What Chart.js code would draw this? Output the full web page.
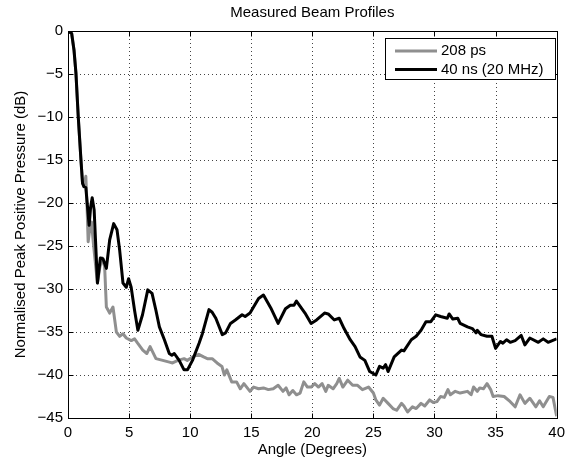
<!DOCTYPE html>
<html><head><meta charset="utf-8">
<script src="https://cdn.jsdelivr.net/npm/chart.js@4"></script>
<style>html,body{margin:0;padding:0;background:#fff}#wrap{width:571px;height:459px}</style>
</head><body><div id="wrap"><canvas id="c" width="571" height="459"></canvas></div>
<script>
const chartTitle = "Measured Beam Profiles";
const xTitle = "Angle (Degrees)";
const yTitle = "Normalised Peak Positive Pressure (dB)";
const seriesNames = ["208 ps", "40 ns (20 MHz)"];
const xTicks = [0, 5, 10, 15, 20, 25, 30, 35, 40];
const yTicks = [0, -5, -10, -15, -20, -25, -30, -35, -40, -45];

// 40 ns (20 MHz) series
const longAngle = [0, 0.08, 0.3, 0.49, 0.65, 0.84, 1.06, 1.19, 1.3, 1.46, 1.6, 1.73, 1.85, 1.98, 2.14, 2.41, 2.65, 2.87, 3.14, 3.41, 3.74, 4.01, 4.23, 4.5, 4.77, 4.96, 5.17, 5.45, 5.72, 6.1, 6.53, 6.88, 7.2, 7.48, 7.89, 8.29, 8.5, 8.7, 9.1, 9.5, 9.78, 10.19, 10.73, 11.0, 11.54, 11.8, 12.1, 12.63, 12.9, 13.3, 13.7, 14.25, 14.5, 14.9, 15.6, 16.0, 16.6, 17.2, 17.8, 18.2, 18.5, 18.7, 19.4, 19.9, 20.35, 21.0, 21.3, 21.8, 22.2, 22.6, 23.1, 23.5, 23.9, 24.3, 24.7, 25.2, 25.5, 25.8, 26.0, 26.2, 26.7, 27.3, 27.5, 28.1, 28.5, 28.9, 29.3, 29.7, 30.1, 30.5, 31.05, 31.2, 31.5, 31.9, 32.1, 32.7, 33.1, 33.4, 33.5, 33.8, 34.3, 34.7, 35.0, 35.4, 35.6, 35.9, 36.2, 36.6, 37.1, 37.4, 37.8, 38.5, 38.9, 39.3, 40];
const longDb = [0, 0, -0.3, -2.2, -4.9, -10, -15, -17.7, -18.1, -18.2, -20.5, -22.6, -20.5, -19.4, -20.8, -29.3, -26.4, -26.5, -27.6, -24.3, -22.4, -23.1, -25.5, -29.3, -29.8, -28.8, -29.8, -32.5, -34.8, -33.0, -30.1, -30.5, -32.5, -34.4, -35.9, -37.5, -37.7, -37.5, -38.3, -39.4, -39.4, -38.3, -36.3, -35.2, -32.4, -32.7, -33.4, -35.3, -35.1, -34.0, -33.6, -33.0, -33.2, -32.8, -31.1, -30.7, -32.2, -34.0, -32.3, -31.9, -31.9, -31.4, -32.8, -34.0, -33.6, -32.8, -32.9, -33.6, -33.4, -34.6, -35.9, -36.7, -37.9, -38.3, -39.6, -40.0, -39.0, -39.2, -38.8, -39.6, -37.9, -37.1, -37.2, -35.9, -35.5, -34.8, -33.8, -33.8, -33.0, -33.2, -33.4, -32.9, -33.5, -33.4, -34.0, -34.4, -34.6, -35.1, -34.8, -35.3, -35.5, -35.5, -36.9, -36.1, -36.3, -35.9, -36.2, -36.0, -35.4, -36.5, -35.7, -36.2, -35.8, -36.2, -35.8];

// 208 ps series
const shortAngle = [0, 0.08, 0.3, 0.49, 0.65, 0.84, 1.06, 1.19, 1.3, 1.46, 1.55, 1.65, 1.8, 1.92, 2.1, 2.41, 2.6, 2.81, 3.0, 3.14, 3.41, 3.68, 3.96, 4.23, 4.5, 4.77, 5.18, 5.45, 5.7, 6.12, 6.45, 6.72, 7.2, 7.75, 8.3, 8.56, 9.0, 9.5, 9.76, 10.2, 10.7, 11.1, 11.4, 11.8, 12.2, 12.6, 12.8, 13.0, 13.4, 13.8, 14.1, 14.4, 14.9, 15.2, 15.6, 16.0, 16.4, 16.8, 17.2, 17.6, 17.85, 18.1, 18.4, 18.7, 19.0, 19.3, 19.6, 19.9, 20.2, 20.5, 20.8, 21.1, 21.3, 21.7, 22.0, 22.2, 22.5, 22.9, 23.3, 23.7, 24.1, 24.6, 25.0, 25.2, 25.5, 25.8, 26.2, 26.6, 26.9, 27.3, 27.5, 27.8, 28.2, 28.5, 28.9, 29.2, 29.6, 29.9, 30.2, 30.5, 30.8, 31.1, 31.3, 31.7, 32.1, 32.7, 33.0, 33.2, 33.5, 33.7, 34.0, 34.3, 34.6, 34.8, 35.2, 35.7, 36.2, 36.6, 37.0, 37.4, 37.8, 38.3, 38.6, 38.9, 39.4, 39.7, 40];
const shortDb = [0, 0, -0.3, -2.2, -4.9, -10, -15, -17.7, -18.0, -16.9, -20, -24.5, -22.8, -22.2, -25, -29.3, -27.5, -26.4, -27.4, -32.1, -32.8, -32.1, -35.0, -35.5, -35.2, -35.7, -36.0, -35.8, -36.3, -37.1, -37.5, -36.7, -38.1, -38.3, -38.5, -38.6, -38.3, -38.1, -38.3, -37.9, -37.6, -37.9, -38.1, -38.1, -38.6, -39.0, -40.0, -39.4, -40.8, -40.8, -41.6, -41.0, -41.9, -41.4, -41.6, -41.5, -41.7, -41.6, -41.2, -41.9, -41.5, -42.3, -41.8, -42.3, -42.1, -40.8, -41.4, -41.4, -41.0, -41.4, -41.0, -41.9, -41.2, -41.6, -41.0, -40.4, -41.4, -40.6, -41.2, -41.2, -41.7, -41.4, -42.1, -42.9, -43.5, -42.7, -43.3, -43.9, -44.1, -43.3, -43.6, -44.3, -43.7, -43.9, -43.3, -43.6, -42.9, -43.2, -43.1, -42.5, -42.6, -41.7, -42.3, -41.9, -42.1, -41.9, -42.3, -41.4, -41.9, -41.5, -41.6, -41.0, -41.7, -42.5, -42.4, -42.5, -43.1, -43.7, -42.3, -43.3, -42.7, -43.7, -43.0, -43.7, -42.5, -42.6, -44.8];

const FONT = "'Liberation Sans', Arial, Helvetica, sans-serif";
const GRAY = '#8f8f8f';
const BLACK = '#000000';

function pts(xs, ys) { return xs.map((x, i) => ({ x: x, y: ys[i] })); }
function fmt(v) { return v < 0 ? '\u2212' + Math.abs(v) : String(v); }

const decor = {
  id: 'decor',
  beforeDatasetsDraw(chart) {
    const { ctx, chartArea: a, scales: { x, y } } = chart;
    ctx.save();
    ctx.strokeStyle = '#444';
    ctx.lineWidth = 1;
    ctx.setLineDash([1, 3]);
    xTicks.forEach(t => {
      const px = Math.round(x.getPixelForValue(t)) + 0.5;
      ctx.beginPath(); ctx.moveTo(px, a.top); ctx.lineTo(px, a.bottom); ctx.stroke();
    });
    yTicks.forEach(t => {
      const py = Math.round(y.getPixelForValue(t)) + 0.5;
      ctx.beginPath(); ctx.moveTo(a.left, py); ctx.lineTo(a.right, py); ctx.stroke();
    });
    ctx.restore();
  },
  afterDatasetsDraw(chart) {
    const { ctx, chartArea: a, scales: { x, y } } = chart;
    ctx.save();
    ctx.strokeStyle = '#000';
    ctx.lineWidth = 1;
    ctx.setLineDash([]);
    const L = Math.round(a.left) + 0.5, R = Math.round(a.right) + 0.5;
    const T = Math.round(a.top) + 0.5, B = Math.round(a.bottom) + 0.5;
    ctx.strokeRect(L, T, R - L, B - T);
    const tl = 5;
    xTicks.forEach(t => {
      const px = Math.round(x.getPixelForValue(t)) + 0.5;
      ctx.beginPath();
      ctx.moveTo(px, B); ctx.lineTo(px, B - tl);
      ctx.moveTo(px, T); ctx.lineTo(px, T + tl);
      ctx.stroke();
    });
    yTicks.forEach(t => {
      const py = Math.round(y.getPixelForValue(t)) + 0.5;
      ctx.beginPath();
      ctx.moveTo(L, py); ctx.lineTo(L + tl, py);
      ctx.moveTo(R, py); ctx.lineTo(R - tl, py);
      ctx.stroke();
    });
    // legend
    const lx = 385.5, ly = 38.5, lw = 170, lh = 41;
    ctx.fillStyle = '#fff';
    ctx.fillRect(lx, ly, lw, lh);
    ctx.strokeRect(lx, ly, lw, lh);
    const rows = [{ c: GRAY, t: seriesNames[0], yy: 51 }, { c: BLACK, t: seriesNames[1], yy: 69.5 }];
    ctx.font = '15px ' + FONT;
    ctx.textBaseline = 'middle';
    ctx.textAlign = 'left';
    rows.forEach(r => {
      ctx.strokeStyle = r.c; ctx.lineWidth = 3;
      ctx.beginPath(); ctx.moveTo(395, r.yy); ctx.lineTo(437, r.yy); ctx.stroke();
      ctx.fillStyle = '#000';
      ctx.fillText(r.t, 441, r.yy);
    });
    // title
    ctx.textAlign = 'center';
    ctx.fillText(chartTitle, (a.left + a.right) / 2, 13);
    ctx.restore();
  }
};

Chart.defaults.font.family = FONT;
Chart.defaults.font.size = 15;
Chart.defaults.color = '#000';

new Chart(document.getElementById('c'), {
  type: 'line',
  data: {
    datasets: [
      { label: seriesNames[1], data: pts(longAngle, longDb), borderColor: BLACK, borderWidth: 3, pointRadius: 0, tension: 0, borderJoinStyle: 'round', order: 0 },
      { label: seriesNames[0], data: pts(shortAngle, shortDb), borderColor: GRAY, borderWidth: 3, pointRadius: 0, tension: 0, borderJoinStyle: 'round', order: 1 }
    ]
  },
  options: {
    responsive: false,
    animation: false,
    devicePixelRatio: 1,
    layout: { padding: { top: 31, right: 11, left: 0, bottom: 0 } },
    plugins: { legend: { display: false }, tooltip: { enabled: false }, title: { display: false } },
    scales: {
      x: {
        type: 'linear', min: 0, max: 40,
        afterBuildTicks: s => { s.ticks = xTicks.map(v => ({ value: v })); },
        afterFit: s => { s.height = 41; },
        grid: { display: false, drawTicks: false },
        border: { display: false },
        ticks: { padding: 6, maxRotation: 0, autoSkip: false, callback: v => fmt(v) },
        title: { display: true, text: xTitle, padding: { top: 0, bottom: 0 } }
      },
      y: {
        type: 'linear', min: -45, max: 0,
        afterBuildTicks: s => { s.ticks = yTicks.map(v => ({ value: v })); },
        afterFit: s => { s.width = 68; },
        grid: { display: false, drawTicks: false },
        border: { display: false },
        ticks: { padding: 5, autoSkip: false, callback: v => fmt(v) },
        title: { display: true, text: yTitle, padding: { top: 12, bottom: 0 } }
      }
    }
  },
  plugins: [decor]
});
</script>
</body></html>
